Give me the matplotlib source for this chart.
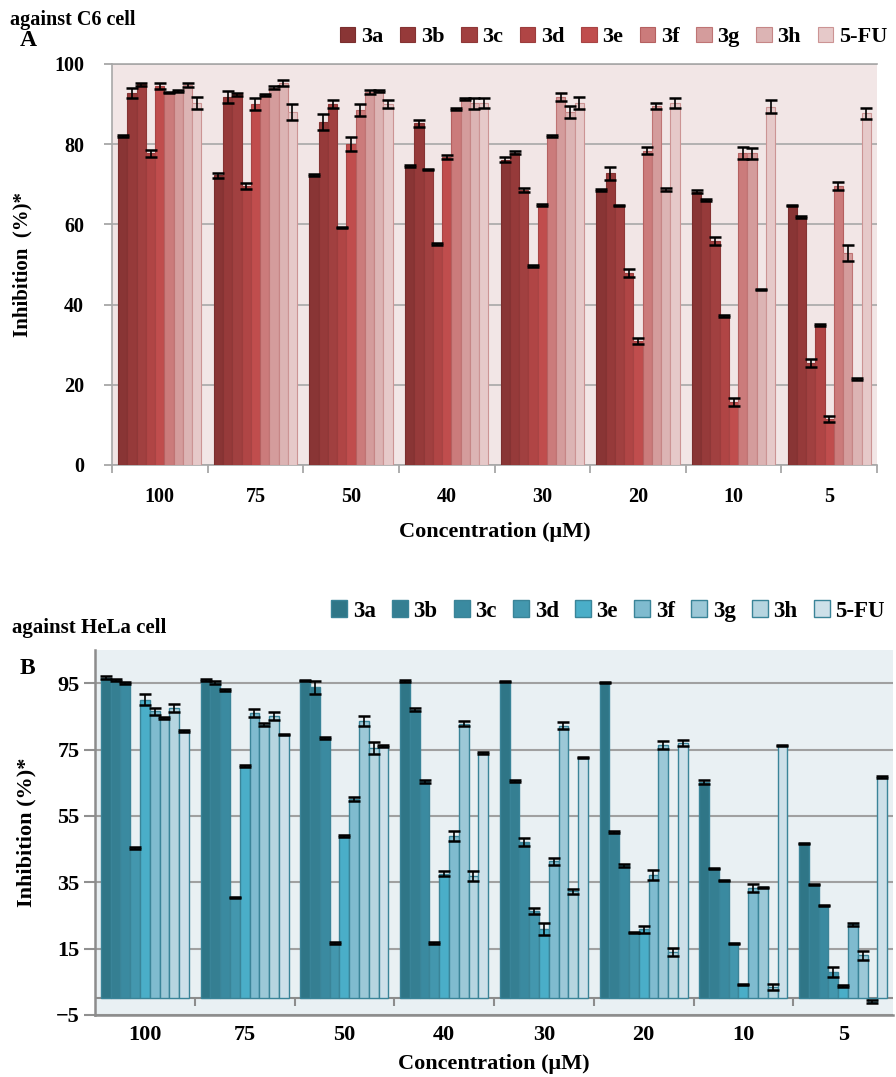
import numpy as np
import matplotlib
matplotlib.use("Agg")
import matplotlib.pyplot as plt
from matplotlib.patches import Patch

plt.rcParams['font.family'] = ['Liberation Serif', 'DejaVu Serif']
plt.rcParams['font.weight'] = 'bold'

concentrations = ['100', '75', '50', '40', '30', '20', '10', '5']
compounds = ['3a', '3b', '3c', '3d', '3e', '3f', '3g', '3h', '5-FU']

# Panel A: against C6 cell (rows = compounds, cols = concentrations)
c6_3a = [82.0, 72.2, 72.3, 74.6, 76.1, 68.6, 68.2, 64.7]
c6_3b = [92.7, 91.8, 85.6, 85.2, 77.9, 72.7, 66.1, 61.9]
c6_3c = [94.9, 92.4, 90.0, 73.7, 68.6, 64.7, 55.9, 25.4]
c6_3d = [77.7, 69.6, 59.2, 55.1, 49.6, 47.8, 37.2, 34.9]
c6_3e = [94.5, 90.0, 80.0, 76.9, 64.8, 30.9, 15.8, 11.4]
c6_3f = [92.9, 92.3, 88.5, 88.8, 82.0, 78.4, 77.7, 69.6]
c6_3g = [93.3, 94.1, 93.1, 91.2, 91.8, 89.5, 77.7, 52.9]
c6_3h = [94.8, 95.3, 93.3, 90.2, 88.1, 68.7, 43.8, 21.4]
c6_5fu = [90.2, 88.1, 90.0, 90.3, 90.3, 90.3, 89.4, 87.7]

c6_err_3a = [0.3, 0.6, 0.2, 0.2, 0.6, 0.3, 0.3, 0.2]
c6_err_3b = [1.3, 1.5, 2.0, 0.8, 0.3, 1.7, 0.2, 0.3]
c6_err_3c = [0.3, 0.3, 1.0, 0.2, 0.5, 0.2, 1.0, 1.0]
c6_err_3d = [0.8, 0.8, 0.2, 0.2, 0.2, 1.0, 0.2, 0.3]
c6_err_3e = [0.8, 1.5, 1.8, 0.5, 0.2, 0.8, 1.0, 0.8]
c6_err_3f = [0.2, 0.2, 1.5, 0.2, 0.3, 0.8, 1.5, 1.0]
c6_err_3g = [0.3, 0.3, 0.5, 0.3, 1.0, 0.8, 1.3, 2.0]
c6_err_3h = [0.5, 0.8, 0.3, 1.3, 1.5, 0.3, 0.2, 0.2]
c6_err_5fu = [1.5, 2.0, 1.0, 1.3, 1.5, 1.3, 1.7, 1.3]

# Panel B: against HeLa cell
hela_3a = [96.7, 96.0, 95.8, 95.8, 95.5, 95.2, 65.2, 46.7]
hela_3b = [96.0, 95.2, 93.7, 87.0, 65.4, 50.1, 39.1, 34.3]
hela_3c = [95.2, 93.0, 78.5, 65.4, 47.1, 40.1, 35.6, 28.0]
hela_3d = [45.4, 30.5, 16.8, 16.8, 26.3, 19.8, 16.6, 8.1]
hela_3e = [90.0, 70.1, 48.9, 37.6, 21.0, 20.8, 4.1, 3.6]
hela_3f = [86.5, 86.0, 60.1, 48.9, 41.3, 37.3, 33.3, 22.3]
hela_3g = [84.5, 82.5, 83.5, 82.8, 82.2, 76.4, 33.5, 13.0]
hela_3h = [87.5, 85.0, 75.5, 37.0, 32.3, 14.0, 3.4, -1.0]
hela_5fu = [80.6, 79.5, 76.2, 74.0, 72.6, 77.0, 76.2, 66.7]

hela_err_3a = [0.5, 0.3, 0.2, 0.3, 0.2, 0.2, 0.5, 0.2]
hela_err_3b = [0.3, 0.5, 2.0, 0.5, 0.3, 0.3, 0.2, 0.2]
hela_err_3c = [0.3, 0.3, 0.2, 0.5, 1.2, 0.5, 0.2, 0.2]
hela_err_3d = [0.3, 0.2, 0.3, 0.3, 0.8, 0.2, 0.2, 1.5]
hela_err_3e = [1.7, 0.3, 0.2, 0.8, 1.8, 1.0, 0.2, 0.3]
hela_err_3f = [1.0, 1.3, 0.5, 1.5, 1.0, 1.5, 1.2, 0.5]
hela_err_3g = [0.3, 0.5, 1.5, 0.8, 1.0, 1.2, 0.2, 1.3]
hela_err_3h = [1.3, 1.2, 1.8, 1.5, 0.8, 1.3, 0.8, 0.5]
hela_err_5fu = [0.2, 0.2, 0.3, 0.2, 0.2, 0.8, 0.2, 0.2]

c6_vals = [c6_3a, c6_3b, c6_3c, c6_3d, c6_3e, c6_3f, c6_3g, c6_3h, c6_5fu]
c6_errs = [c6_err_3a, c6_err_3b, c6_err_3c, c6_err_3d, c6_err_3e, c6_err_3f,
           c6_err_3g, c6_err_3h, c6_err_5fu]
hela_vals = [hela_3a, hela_3b, hela_3c, hela_3d, hela_3e, hela_3f, hela_3g,
             hela_3h, hela_5fu]
hela_errs = [hela_err_3a, hela_err_3b, hela_err_3c, hela_err_3d, hela_err_3e,
             hela_err_3f, hela_err_3g, hela_err_3h, hela_err_5fu]

red_colors = ['#893535', '#963A3A', '#A14040', '#B04545', '#C04D4D',
              '#CB7B7B', '#D49C9C', '#DCB4B4', '#E6C9C9']
red_edges = ['#7A2E2E', '#853333', '#8F3838', '#9C3D3D', '#A84444',
             '#B56060', '#BF7474', '#C68686', '#CC9494']
blue_colors = ['#2F7687', '#357F92', '#3A8AA0', '#4397AE', '#4AAEC8',
               '#7FBBCF', '#9CC8D7', '#B6D5E0', '#CDE0E9']
blue_edge = '#3A8498'

W, H = 896, 1077
fig = plt.figure(figsize=(W / 100, H / 100), dpi=100)

x = np.arange(len(concentrations))
n = len(compounds)

# ---------------- Panel A ----------------
axA = fig.add_axes([112 / W, 1 - 465 / H, (877 - 112) / W, (465 - 64) / H])
axA.set_facecolor('#F2E6E6')
bw = 0.87 / n
for i in range(n):
    pos = x - 0.435 + bw * (i + 0.5)
    axA.bar(pos, c6_vals[i], width=bw, color=red_colors[i],
            edgecolor=red_edges[i], linewidth=0.8, zorder=3)
    axA.errorbar(pos, c6_vals[i], yerr=c6_errs[i], fmt='none', ecolor='black',
                 elinewidth=1.2, capsize=4, capthick=1.8, zorder=4)
axA.set_xlim(-0.5, len(concentrations) - 0.5)
axA.set_ylim(0, 100)
axA.set_yticks([0, 20, 40, 60, 80, 100])
axA.yaxis.grid(True, color='#A8A8A8', linewidth=1.2, zorder=0)
axA.set_axisbelow(True)
axA.set_xticks(np.arange(-0.5, len(concentrations), 1.0))
axA.set_xticklabels([])
axA.set_xticks(x, minor=True)
axA.set_xticklabels(concentrations, minor=True)
axA.tick_params(axis='x', which='major', length=6, color='#A0A0A0', width=1.2)
axA.tick_params(axis='x', which='minor', length=0, pad=16, labelsize=14.5)
axA.tick_params(axis='y', length=6, color='#A0A0A0', width=1.2, labelsize=14.5, pad=14)
for s in ['left', 'bottom', 'top']:
    axA.spines[s].set_color('#A8A8A8')
    axA.spines[s].set_linewidth(1.2)
axA.spines['right'].set_visible(False)
axA.set_ylabel('Inhibition  (%)*', fontsize=15, fontweight='bold', labelpad=16)
axA.set_xlabel('Concentration (μM)', fontsize=16, fontweight='bold', labelpad=11)

fig.text(10 / W, 1 - 20 / H, 'against C6 cell', fontsize=14.5, fontweight='bold',
         ha='left', va='center')
fig.text(20 / W, 1 - 40 / H, 'A', fontsize=17, fontweight='bold',
         ha='left', va='center')

handlesA = [Patch(facecolor=red_colors[i], edgecolor=red_edges[i], linewidth=0.8)
            for i in range(n)]
fig.legend(handlesA, compounds, loc='center right',
           bbox_to_anchor=(896 / W, 1 - 37 / H), ncol=n, frameon=False,
           fontsize=16, handlelength=0.7, handleheight=0.7,
           handletextpad=0.25, columnspacing=0.75, borderaxespad=0)

# ---------------- Panel B ----------------
axB = fig.add_axes([95 / W, 1 - 1015 / H, (893 - 95) / W, (1015 - 650) / H])
axB.set_facecolor('#E9F0F3')
bw2 = 0.88 / n
for i in range(n):
    pos = x - 0.44 + bw2 * (i + 0.5)
    axB.bar(pos, hela_vals[i], width=bw2, color=blue_colors[i],
            edgecolor=blue_edge, linewidth=1.0, zorder=3)
    axB.errorbar(pos, hela_vals[i], yerr=hela_errs[i], fmt='none', ecolor='black',
                 elinewidth=1.2, capsize=4, capthick=1.8, zorder=4)
axB.set_xlim(-0.5, len(concentrations) - 0.5)
axB.set_ylim(-5, 105)
axB.set_yticks([-5, 15, 35, 55, 75, 95])
axB.yaxis.grid(True, color='#A0A0A0', linewidth=1.5, zorder=0)
axB.set_axisbelow(True)
axB.axhline(0, color='#8C8C8C', linewidth=1.5, zorder=2)
axB.set_xticks(x)
axB.set_xticklabels(concentrations)
axB.tick_params(axis='x', length=0, pad=7, labelsize=16)
axB.tick_params(axis='y', length=8, color='#909090', width=1.5, labelsize=16, pad=3)
sec = axB.secondary_xaxis(5 / 110)
sec.set_xticks(np.arange(0.5, len(concentrations) - 0.5, 1.0))
sec.set_xticklabels([])
sec.tick_params(axis='x', length=6, color='#8C8C8C', width=1.5, direction='out')
sec.spines['bottom'].set_visible(False)
for s in ['left', 'bottom']:
    axB.spines[s].set_color('#8C8C8C')
    axB.spines[s].set_linewidth(1.8)
axB.spines['top'].set_visible(False)
axB.spines['right'].set_visible(False)
axB.set_ylabel('Inhibition (%)*', fontsize=16, fontweight='bold', labelpad=14)
axB.set_xlabel('Concentration (μM)', fontsize=16, fontweight='bold', labelpad=7)

fig.text(12 / W, 1 - 628 / H, 'against HeLa cell', fontsize=15, fontweight='bold',
         ha='left', va='center')
fig.text(20 / W, 1 - 668 / H, 'B', fontsize=17, fontweight='bold',
         ha='left', va='center')

handlesB = [Patch(facecolor=blue_colors[i], edgecolor=blue_edge, linewidth=1.0)
            for i in range(n)]
fig.legend(handlesB, compounds, loc='center right',
           bbox_to_anchor=(894 / W, 1 - 611 / H), ncol=n, frameon=False,
           fontsize=16.5, handlelength=0.7, handleheight=0.7,
           handletextpad=0.25, columnspacing=0.7, borderaxespad=0)

fig.savefig('out.png', dpi=100)
